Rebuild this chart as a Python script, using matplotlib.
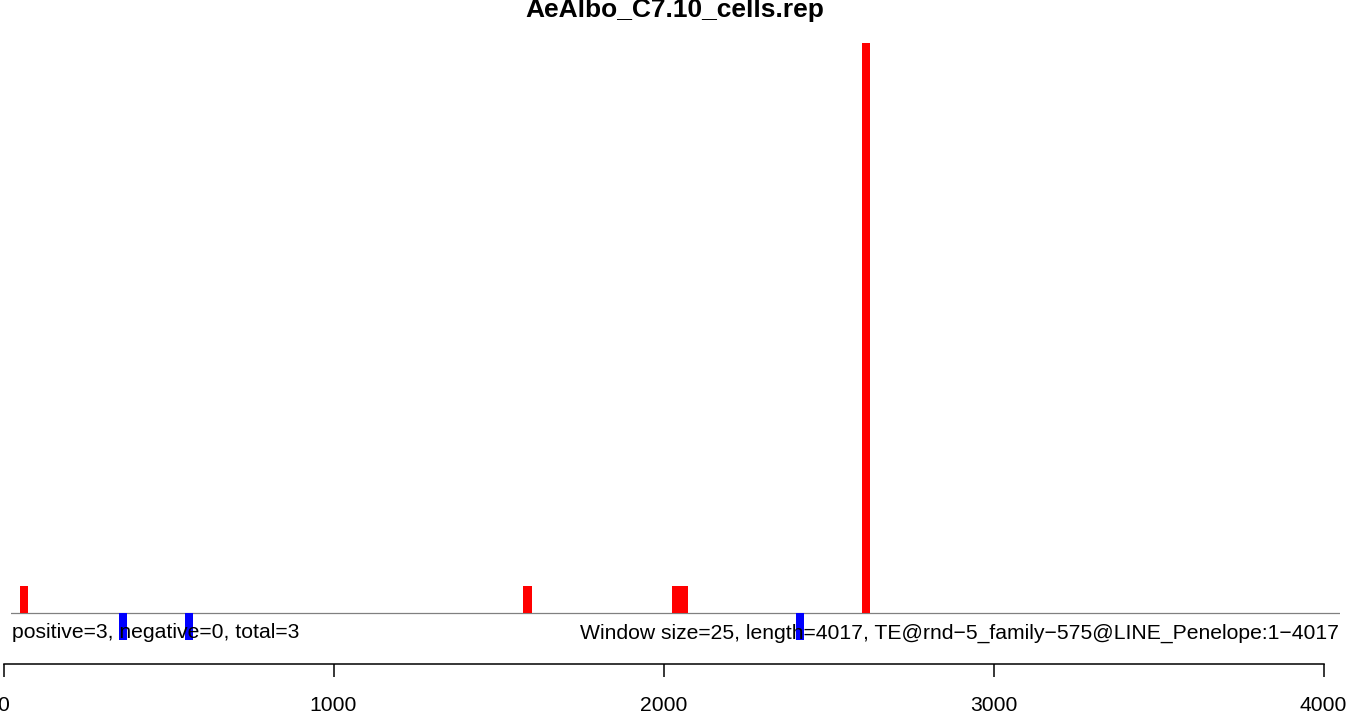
import matplotlib
matplotlib.use("Agg")
import matplotlib.pyplot as plt

plt.rcParams['font.family'] = ['Liberation Sans', 'DejaVu Sans']

title = "AeAlbo_C7.10_cells.rep"
window = 25
# window starts and counts (positive strand up, negative strand down)
pos_start = [50, 1575, 2025, 2050, 2600]
pos_count = [1, 1, 1, 1, 21]
neg_start = [350, 550, 2400]
neg_count = [1, 1, 1]
info_left = "positive=3, negative=0, total=3"
info_right = "Window size=25, length=4017, TE@rnd\u22125_family\u2212575@LINE_Penelope:1\u22124017"
ticks = [0, 1000, 2000, 3000, 4000]

W, H = 1349, 712
fig = plt.figure(figsize=(W / 100, H / 100), dpi=100)


def fx(px):
    return px / W


def fy(py):
    return 1 - py / H


# bar panel: x 11..1340 px, y 40..650 px, baseline at 613 px
ppu = 1320 / 4000
unit_px = 570 / 21
ax = fig.add_axes([fx(11), fy(650), fx(1329), (650 - 40) / H])
ax.set_xlim((11 - 3.5) / ppu, (1340 - 3.5) / ppu)
ax.set_ylim(-(650 - 613) / unit_px, (613 - 40) / unit_px)
ax.axis("off")
ax.axhline(0, color="#808080", lw=0.9, zorder=1)
ax.bar(pos_start, pos_count, width=window, align="edge", color="red", lw=0, zorder=3)
ax.bar(neg_start, [-c for c in neg_count], width=window, align="edge", color="blue", lw=0, zorder=3)

fig.text(fx(12), fy(633), info_left, fontsize=15.2, ha="left", va="center", zorder=2)
fig.text(fx(1339), fy(633), info_right, fontsize=15.2, ha="right", va="center", zorder=2)
fig.text(fx(675), fy(17), title, fontsize=19, fontweight="bold", ha="center", va="baseline")

# position axis
axx = fig.add_axes([fx(3.5), fy(664), fx(1320), 0.001])
axx.set_xlim(0, 4000)
axx.set_ylim(0, 1)
for s in ["top", "left", "right"]:
    axx.spines[s].set_visible(False)
axx.spines["bottom"].set_bounds(0, 4000)
axx.spines["bottom"].set_linewidth(1.1)
axx.set_yticks([])
axx.set_xticks(ticks)
axx.set_xticklabels([str(t) for t in ticks])
axx.tick_params(axis="x", direction="out", length=9.4, width=1.1, pad=13.5, labelsize=15.2)
axx.patch.set_alpha(0)

fig.savefig("out.png", dpi=100)
